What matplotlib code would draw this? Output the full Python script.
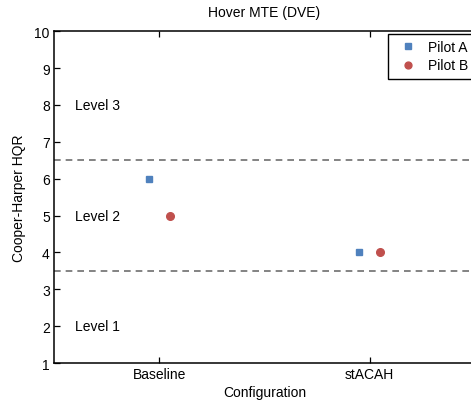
import matplotlib
matplotlib.use("Agg")
import matplotlib.pyplot as plt

plt.rcParams['font.family'] = ['Liberation Sans', 'DejaVu Sans']

configs = ["Baseline", "stACAH"]
pilot_a = [6, 4]
pilot_b = [5, 4]
level_bounds = [6.5, 3.5]
level_labels = ["Level 3", "Level 2", "Level 1"]
level_label_y = [8, 5, 2]

fs = 10
fig = plt.figure(figsize=(4.71, 4.02), dpi=100)
ax = fig.add_axes([0.1146, 0.0945, 0.894, 0.8255])

xs = [1, 2]
ax.plot([x - 0.05 for x in xs], pilot_a, linestyle='none', marker='s', markersize=5,
        color='#4F81BD', label='Pilot A')
ax.plot([x + 0.05 for x in xs], pilot_b, linestyle='none', marker='o', markersize=5.5,
        color='#C0504D', label='Pilot B')
for yb in level_bounds:
    ax.axhline(yb, color='#6e6e6e', linestyle=(0, (4, 3)), linewidth=1.2)
for lab, ly in zip(level_labels, level_label_y):
    ax.text(0.6, ly, lab, fontsize=fs, va='center', ha='left')

ax.set_xlim(0.5, 2.5)
ax.set_ylim(1, 10)
ax.set_xticks(xs)
ax.set_xticklabels(configs)
ax.set_yticks(range(1, 11))
ax.tick_params(direction='in', top=True, right=False, labelsize=fs, length=4, width=0.9, pad=3)
for sp in ax.spines.values():
    sp.set_linewidth(1.1)
ax.set_xlabel("Configuration", fontsize=fs, labelpad=2.5)
ax.set_ylabel("Cooper-Harper HQR", fontsize=fs, labelpad=6)
ax.set_title("Hover MTE (DVE)", fontsize=fs, pad=11)
leg = ax.legend(loc='upper right', fontsize=fs, fancybox=False, edgecolor='black',
                framealpha=1, handletextpad=0.43, borderpad=0.45, labelspacing=0.3,
                handlelength=2.0, borderaxespad=0.0, markerscale=0.9,
                bbox_to_anchor=(474 / 471, (402 - 35) / 402), bbox_transform=fig.transFigure)
leg.get_frame().set_linewidth(1.0)

fig.savefig("out.png", dpi=100)
